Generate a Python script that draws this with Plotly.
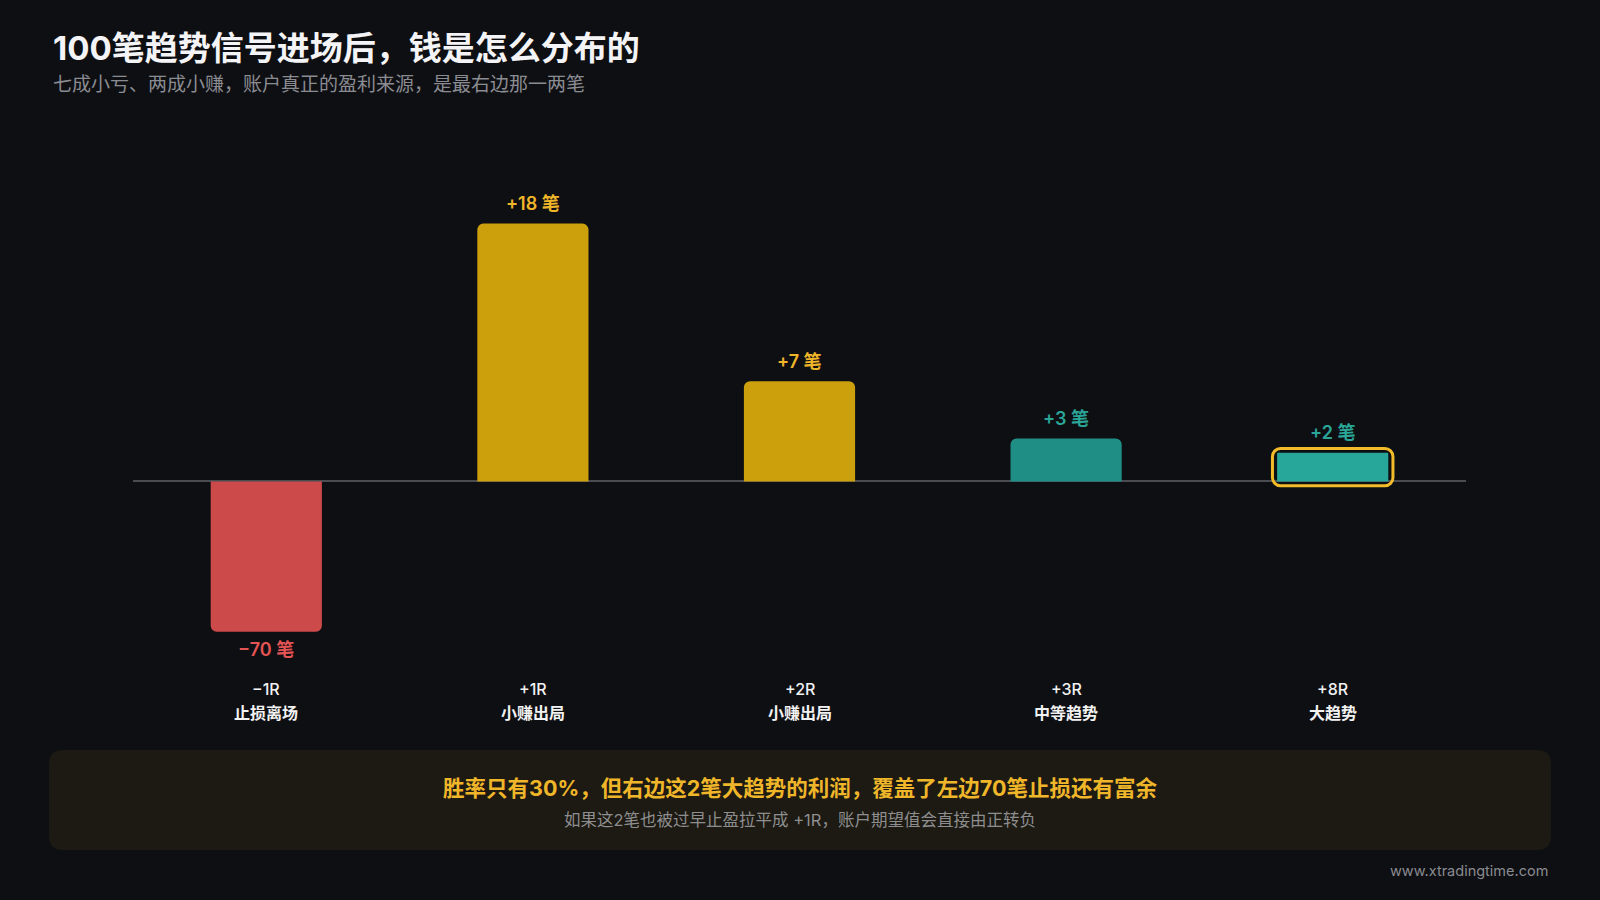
import plotly.graph_objects as go

# ---------------- data ----------------
r_multiples = ["−1R", "+1R", "+2R", "+3R", "+8R"]
outcome_names = ["止损离场", "小赚出局", "小赚出局", "中等趋势", "大趋势"]
trade_counts = [-70, 18, 7, 3, 2]
highlight_index = 4

title_text = "100笔趋势信号进场后，钱是怎么分布的"
subtitle_text = "七成小亏、两成小赚，账户真正的盈利来源，是最右边那一两笔"
note_main = "胜率只有30%，但右边这2笔大趋势的利润，覆盖了左边70笔止损还有富余"
note_sub = "如果这2笔也被过早止盈拉平成 +1R，账户期望值会直接由正转负"
watermark = "www.xtradingtime.com"

# ---------------- style ----------------
W, H = 1600, 900
L, R, T, B = 133, 134, 152, 218
PW, PH = W - L - R, H - T - B
Y_RANGE = [-14, 23]
NEG_SCALE = 0.15          # loss bar drawn compressed
BAR_W = 0.417
FONT = "Inter, Noto Sans CJK SC"
BG = "#0e0f13"
bar_colors = ["#cd4a4a", "#cc9f0c", "#cc9f0c", "#1f8f86", "#27a69a"]
label_colors = ["#e45454", "#f0b62a", "#f0b62a", "#2aa597", "#2aa597"]
GOLD_LINE = "#f2bb2a"

display = [c * NEG_SCALE if c < 0 else c for c in trade_counts]
labels = [("+" if c > 0 else "−") + f"{abs(c)} 笔" for c in trade_counts]
xs = list(range(len(trade_counts)))


def fx(px):
    return (px - L) / PW


def fy(py):
    return (T + PH - py) / PH


def rounded_rect(x0, y0, x1, y1, r):
    return (f"M {fx(x0 + r)},{fy(y0)} L {fx(x1 - r)},{fy(y0)} "
            f"Q {fx(x1)},{fy(y0)} {fx(x1)},{fy(y0 + r)} L {fx(x1)},{fy(y1 - r)} "
            f"Q {fx(x1)},{fy(y1)} {fx(x1 - r)},{fy(y1)} L {fx(x0 + r)},{fy(y1)} "
            f"Q {fx(x0)},{fy(y1)} {fx(x0)},{fy(y1 - r)} L {fx(x0)},{fy(y0 + r)} "
            f"Q {fx(x0)},{fy(y0)} {fx(x0 + r)},{fy(y0)} Z")


fig = go.Figure()
fig.add_trace(go.Bar(
    x=xs, y=display, width=BAR_W,
    marker=dict(color=bar_colors, cornerradius=6, line=dict(width=0)),
    hoverinfo="skip", showlegend=False,
))

# highlight outline around the big-trend bar
pad = 0.3
hx = highlight_index
fig.add_trace(go.Bar(
    x=[hx], y=[display[hx] + 2 * pad], base=[-pad], width=BAR_W + 0.035,
    marker=dict(color="rgba(0,0,0,0)", cornerradius=8,
                line=dict(color=GOLD_LINE, width=3)),
    hoverinfo="skip", showlegend=False,
))

annotations = []
for i in xs:
    annotations.append(dict(
        x=i, y=display[i], xref="x", yref="y", text=labels[i],
        showarrow=False, yanchor="middle",
        yshift=20 if trade_counts[i] > 0 else -18,
        font=dict(family=FONT, size=18, color=label_colors[i], weight=600),
    ))
    annotations.append(dict(
        x=i, y=0, xref="x", yref="paper", text=r_multiples[i],
        showarrow=False, yanchor="middle", yshift=-7,
        font=dict(family=FONT, size=16, color="#f2f2f2", weight=500),
    ))
    annotations.append(dict(
        x=i, y=0, xref="x", yref="paper", text=outcome_names[i],
        showarrow=False, yanchor="middle", yshift=-31,
        font=dict(family=FONT, size=16, color="#f2f2f2", weight=700),
    ))

annotations += [
    dict(x=fx(51), y=fy(48), xref="paper", yref="paper", text=title_text,
         showarrow=False, xanchor="left", yanchor="middle",
         font=dict(family=FONT, size=33, color="#f4f4f6", weight=700)),
    dict(x=fx(51), y=fy(84), xref="paper", yref="paper", text=subtitle_text,
         showarrow=False, xanchor="left", yanchor="middle",
         font=dict(family=FONT, size=19, color="#8b8c92")),
    dict(x=fx(800), y=fy(788), xref="paper", yref="paper", text=note_main,
         showarrow=False, xanchor="center", yanchor="middle",
         font=dict(family=FONT, size=21.5, color="#f0b62a", weight=700)),
    dict(x=fx(800), y=fy(820), xref="paper", yref="paper", text=note_sub,
         showarrow=False, xanchor="center", yanchor="middle",
         font=dict(family=FONT, size=16.5, color="#8e8e90")),
    dict(x=fx(1550), y=fy(871), xref="paper", yref="paper", text=watermark,
         showarrow=False, xanchor="right", yanchor="middle",
         font=dict(family=FONT, size=14.5, color="#8a8b90")),
]

shapes = [dict(type="path", xref="paper", yref="paper",
               path=rounded_rect(49, 750, 1551, 850, 14),
               fillcolor="#1c1a12", line=dict(width=0), layer="below")]

fig.update_layout(
    width=W, height=H,
    margin=dict(l=L, r=R, t=T, b=B),
    paper_bgcolor=BG, plot_bgcolor=BG,
    barmode="overlay",
    xaxis=dict(range=[-0.5, len(xs) - 0.5], showgrid=False, zeroline=False,
               showticklabels=False, showline=False, fixedrange=True),
    yaxis=dict(range=Y_RANGE, showgrid=False, showticklabels=False, showline=False,
               zeroline=True, zerolinecolor="#4b4c52", zerolinewidth=1.5, fixedrange=True),
    annotations=annotations,
    shapes=shapes,
    font=dict(family=FONT),
)

fig.write_html(
    "out.html",
    config={"displayModeBar": False},
    post_script="document.body.style.margin='0';document.body.style.background='%s';" % BG,
)
